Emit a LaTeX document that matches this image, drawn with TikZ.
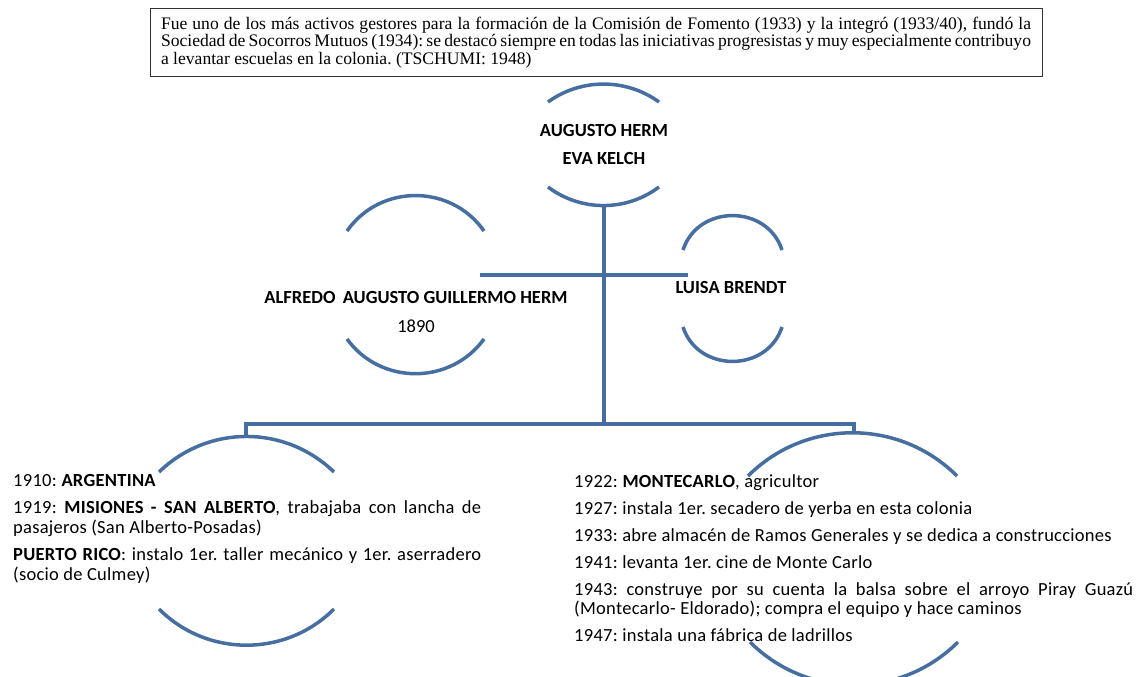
\documentclass[tikz,border=0pt]{standalone}
\usepackage{fontspec}
\setmainfont{Carlito}
\newfontfamily\quotefont{Liberation Serif}
\usetikzlibrary{positioning}
\definecolor{linkblue}{RGB}{70,110,160}
\frenchspacing

\begin{document}
\begin{tikzpicture}[x=1pt, y=-1pt,
        link/.style={draw=linkblue, line width=4pt},
        halfarc/.style={draw=linkblue, line width=3.5pt},
        note/.style={draw=black!80, line width=1pt, text width=870pt, minimum height=67pt, inner xsep=11pt, inner ysep=0pt, align=justify, font=\quotefont\fontsize{17.6}{17.5}\selectfont},
        person/.style={inner sep=0pt, font=\fontsize{18.5}{19.5}\selectfont\bfseries},
        year/.style={inner sep=0pt, font=\fontsize{18.5}{19.5}\selectfont},
        story/.style={inner sep=0pt, align=justify, anchor=base west, font=\fontsize{18.5}{19.5}\selectfont\addfontfeature{LetterSpace=1.5}}
    ]
    \useasboundingbox (0,0) rectangle (1140,677);

    % cita
    \node[note] (quote) at (596,42.5) {\spaceskip=0.14em plus 0.3em minus 0.06em
        Fue uno de los más activos gestores para la formación de la Comisión de Fomento (1933) y la integró (1933/40), fundó la\linebreak Sociedad de Socorros Mutuos (1934): se destacó siempre en todas las iniciativas progresistas y muy especialmente contribuyo\linebreak
        \spaceskip=0pt a levantar escuelas en la colonia. (TSCHUMI: 1948)};

    % padres
    \node[person, anchor=base] (herm) at (604,136) {AUGUSTO HERM};
    \node[person, below=16pt of herm] (kelch) {EVA KELCH};
    \draw[halfarc] (548,102) to[bend left=36, looseness=0.94] (659,102);
    \draw[halfarc] (548,187) to[bend right=37, looseness=0.95] (659,187);

    % pareja
    \node[person, anchor=base] (alfredo) at (416,303) {ALFREDO\, AUGUSTO GUILLERMO HERM};
    \node[year, below=16pt of alfredo] (born) {1890};
    \draw[halfarc] (347,231) to[bend left=55, looseness=1.08] (484,231);
    \draw[halfarc] (347,339) to[bend right=54, looseness=1.07] (484,339);

    \node[person, anchor=base] (luisa) at (731,293) {LUISA BRENDT};
    \draw[halfarc] (683,250) to[bend left=72, looseness=1.25] (782,250);
    \draw[halfarc] (683,327) to[bend right=72, looseness=1.25] (782,327);

    % lineas
    \coordinate (parents-b) at (604,206);
    \coordinate (split) at (604,424);
    \coordinate (marry-w) at (480,275);
    \coordinate (marry-e) at (688,275);
    \coordinate (left-drop) at (246,437);
    \coordinate (right-drop) at (854,433);
    \draw[link] (parents-b) -- (split);
    \draw[link] (marry-w) -- (marry-e);
    \draw[link] (left-drop) |- (split) -| (right-drop);

    % etapas
    \node[story, text width=468pt] (early) at (13,486) {\setlength{\parskip}{8pt}%
        1910: \textbf{ARGENTINA}\par
        1919: \textbf{MISIONES - SAN ALBERTO}, trabajaba con lancha de\linebreak pasajeros (San Alberto-Posadas)\par
        \textbf{PUERTO RICO}: instalo 1er. taller mecánico y 1er. aserradero\linebreak (socio de Culmey)};
    \draw[halfarc] (159,472) to[bend left=44, looseness=1.0] (334,472);
    \draw[halfarc] (159,609) to[bend right=45, looseness=1.0] (334,609);

    \node[story, text width=559pt] (later) at (574,487) {\setlength{\parskip}{7.5pt}%
        1922: \textbf{MONTECARLO}, agricultor\par
        1927: instala 1er. secadero de yerba en esta colonia\par
        1933: abre almacén de Ramos Generales y se dedica a construcciones\par
        1941: levanta 1er. cine de Monte Carlo\par
        1943: construye por su cuenta la balsa sobre el arroyo Piray Guazú\linebreak (Montecarlo- Eldorado); compra el equipo y hace caminos\par
        1947: instala una fábrica de ladrillos};
    \draw[halfarc] (748,476) to[bend left=45, looseness=1.0] (957,476);
    \draw[halfarc] (750,642) to[bend right=45, looseness=1.0] (958,642);
\end{tikzpicture}
\end{document}
